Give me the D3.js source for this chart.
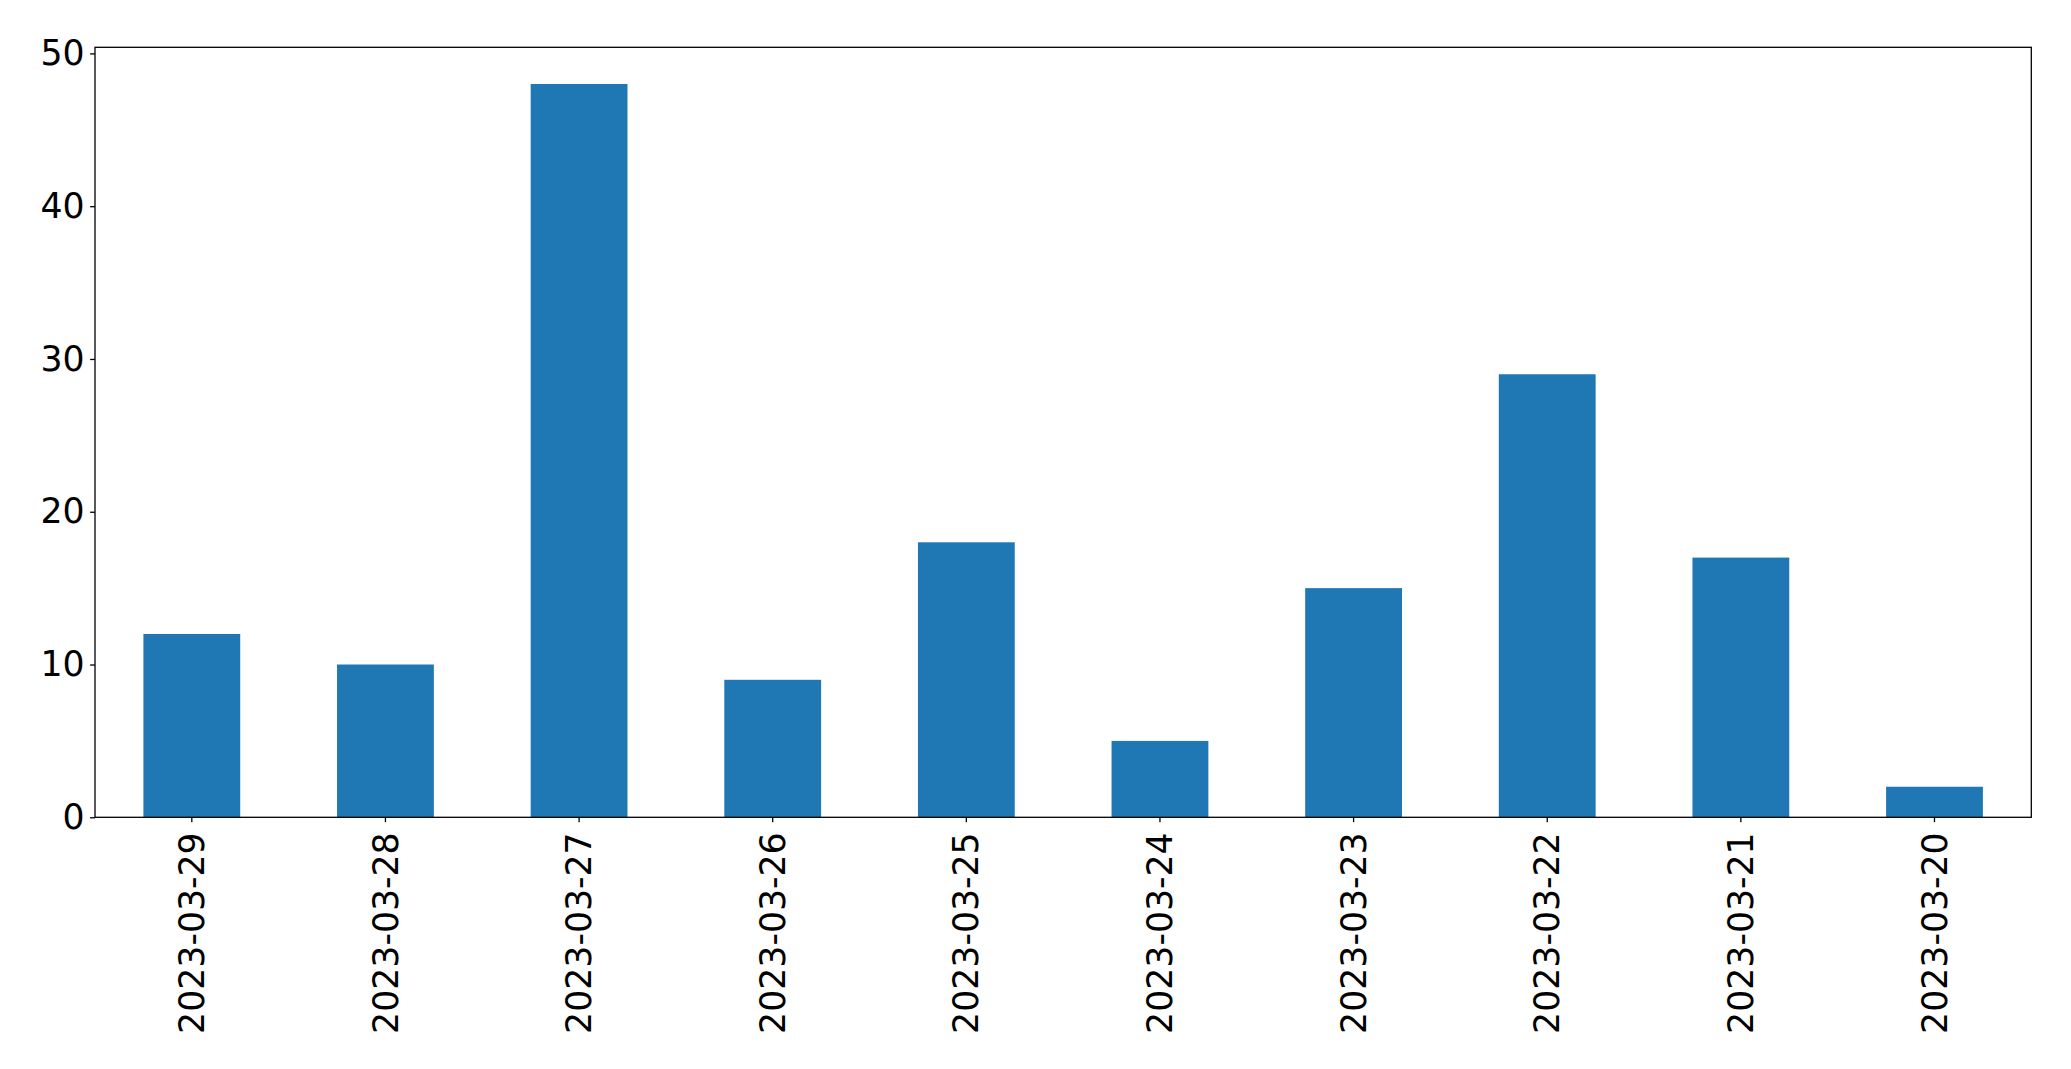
<!DOCTYPE html>
<html>
<head>
<meta charset="utf-8">
<script src="https://cdn.jsdelivr.net/npm/d3@7"></script>
<style>
  html, body { margin: 0; padding: 0; background: #fff; }
  svg { display: block; }
  text { font-family: "DejaVu Sans", sans-serif; fill: #000; }
</style>
</head>
<body>
<svg id="chart" width="2071" height="1069"></svg>
<script>
const categories = ["2023-03-29","2023-03-28","2023-03-27","2023-03-26","2023-03-25","2023-03-24","2023-03-23","2023-03-22","2023-03-21","2023-03-20"];
const values = [12, 10, 48, 9, 18, 5, 15, 29, 17, 2];
const yTicks = [0, 10, 20, 30, 40, 50];

const W = 2071, H = 1069;
const margin = { left: 95, right: W - 2031.3, top: 47.3, bottom: H - 817.3 };
const innerW = W - margin.left - margin.right;
const innerH = H - margin.top - margin.bottom;
const fontSize = 34.7;

const svg = d3.select("#chart");
const g = svg.append("g").attr("transform", `translate(${margin.left},${margin.top})`);

const x = d3.scaleBand().domain(categories).range([0, innerW]).paddingInner(0.5).paddingOuter(0.25);
const yMax = d3.max(values) * 1.05;
const y = d3.scaleLinear().domain([0, yMax]).range([innerH, 0]);

g.selectAll("rect.bar")
  .data(categories.map((c, i) => ({ c, v: values[i] })))
  .enter().append("rect")
  .attr("class", "bar")
  .attr("x", d => x(d.c))
  .attr("y", d => y(d.v))
  .attr("width", x.bandwidth())
  .attr("height", d => innerH - y(d.v))
  .attr("fill", "#1f77b4");

// Y axis
const yAxis = g.append("g")
  .call(d3.axisLeft(y).tickValues(yTicks).tickFormat(d3.format("d")).tickSize(4.9).tickPadding(5.5));
yAxis.select(".domain").remove();
yAxis.selectAll("line").attr("stroke", "#000").attr("stroke-width", 1.3);
yAxis.selectAll("text").style("font-size", fontSize + "px").style("font-family", '"DejaVu Sans", sans-serif').attr("fill", "#000");

// X axis
const xAxis = g.append("g")
  .attr("transform", `translate(0,${innerH})`)
  .call(d3.axisBottom(x).tickSize(4.9).tickPadding(8));
xAxis.select(".domain").remove();
xAxis.selectAll("line").attr("stroke", "#000").attr("stroke-width", 1.3);
xAxis.selectAll("text")
  .style("font-size", fontSize + "px")
  .style("font-family", '"DejaVu Sans", sans-serif')
  .attr("fill", "#000")
  .attr("transform", "rotate(-90)")
  .attr("text-anchor", "end")
  .attr("dy", "0.35em")
  .attr("x", -15)
  .attr("y", 0);

// Frame
g.append("rect")
  .attr("x", 0).attr("y", 0)
  .attr("width", innerW).attr("height", innerH)
  .attr("fill", "none").attr("stroke", "#000").attr("stroke-width", 1.3);
</script>
</body>
</html>
